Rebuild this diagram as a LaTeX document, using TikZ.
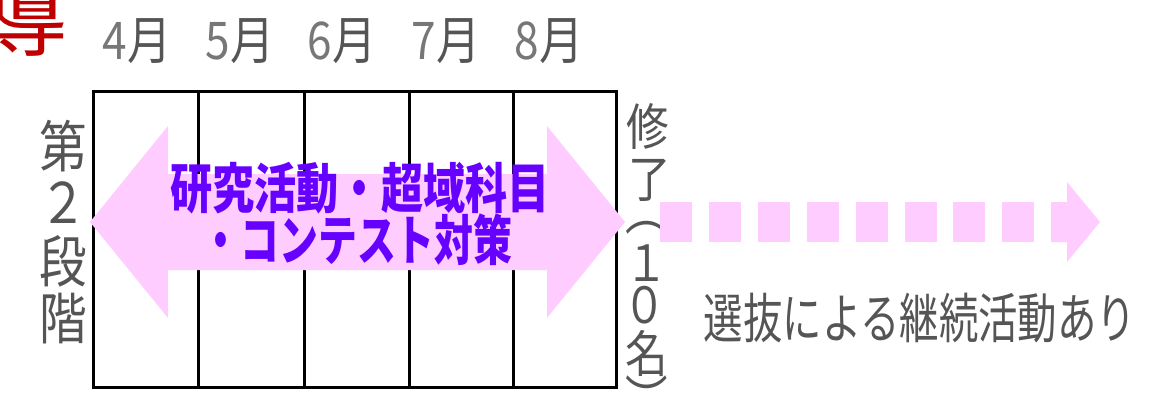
\documentclass[tikz,border=0pt]{standalone}
\usepackage{fontspec}
\usepackage{graphicx}
\newfontfamily\jp{Noto Sans CJK JP}
\definecolor{pinkA}{HTML}{FFCCFF}
\definecolor{purp}{HTML}{6600FF}
\definecolor{grayT}{HTML}{555555}
\definecolor{grayL}{HTML}{777777}
\definecolor{redT}{HTML}{C00000}
\newcommand\sx[2]{\scalebox{#1}[1]{#2}}
\begin{document}
\begin{tikzpicture}[x=1pt,y=-1pt,
  gridline/.style={line width=3pt,black},
  lbl/.style={inner sep=0pt,text=grayT,font=\jp\fontsize{52}{52}\selectfont},
  vch/.style={inner sep=0pt,text=grayT,font=\jp\fontsize{56}{56}\selectfont},
  rch/.style={inner sep=0pt,text=grayT,font=\jp\fontsize{50}{50}\selectfont},
  mid/.style={inner sep=0pt,text=purp,font=\jp\bfseries\fontsize{54}{54}\selectfont},
  pinkfill/.style={fill=pinkA,draw=none}]
\useasboundingbox (0,0) rectangle (1152,404);
% red partial character
\node[anchor=south east,inner sep=0pt,text=redT,font=\jp\fontsize{86}{86}\selectfont] (dou) at (68,57) {導};
% months
\node[lbl] (m4) at (137,41) {\sx{0.85}{\textcolor{grayL}{4}月}};
\node[lbl] (m5) at (240,41) {\sx{0.85}{\textcolor{grayL}{5}月}};
\node[lbl] (m6) at (342,41) {\sx{0.85}{\textcolor{grayL}{6}月}};
\node[lbl] (m7) at (446,41) {\sx{0.85}{\textcolor{grayL}{7}月}};
\node[lbl] (m8) at (549,41) {\sx{0.85}{\textcolor{grayL}{8}月}};
% grid
\draw[gridline] (93,92) rectangle (616,387);
\foreach \x in {198,304,409,513} \draw[gridline] (\x,92) -- (\x,387);
% left label
\node[vch] (l1) at (63,146) {\sx{0.85}{第}};
\node[vch] (l2) at (63,203) {\sx{0.85}{２}};
\node[vch] (l3) at (63,261) {\sx{0.85}{段}};
\node[vch] (l4) at (63,319) {\sx{0.85}{階}};
% big double arrow
\fill[pinkfill] (90,222) -- (168,126) -- (168,174) -- (547,174) -- (547,126) -- (625,222)
  -- (547,318) -- (547,270) -- (168,270) -- (168,318) -- cycle;
\node[mid] (t1) at (360,188) {\sx{0.78}{研究活動・超域科目}};
\node[mid] (t2) at (357,240) {\sx{0.72}{・コンテスト対策}};
% right vertical label
\node[rch] (r1) at (648,126) {\sx{0.85}{修}};
\node[rch] (r2) at (650,180) {\sx{0.85}{了}};
\node[rch] (r3) at (647,228) {\sx{0.85}{︵}};
\node[rch] (r4) at (647,263) {\sx{0.85}{１}};
\node[rch] (r5) at (645,305) {\sx{0.85}{０}};
\node[rch] (r6) at (647,353) {\sx{0.85}{名}};
\node[rch] (r7) at (647,397) {\sx{0.85}{︶}};
% dashed arrow
\foreach \k in {0,...,7} \fill[pinkfill] ({660+48.9*\k},202) rectangle ({692+48.9*\k},242);
\fill[pinkfill] (1051,202) -- (1067,202) -- (1067,182) -- (1100,222) -- (1067,262) -- (1067,242) -- (1051,242) -- cycle;
% bottom right text
\node[rch,text=grayT,font=\jp\fontsize{54}{54}\selectfont] (sel) at (920,318) {\sx{0.73}{選抜による継続活動あり}};
\end{tikzpicture}
\end{document}
